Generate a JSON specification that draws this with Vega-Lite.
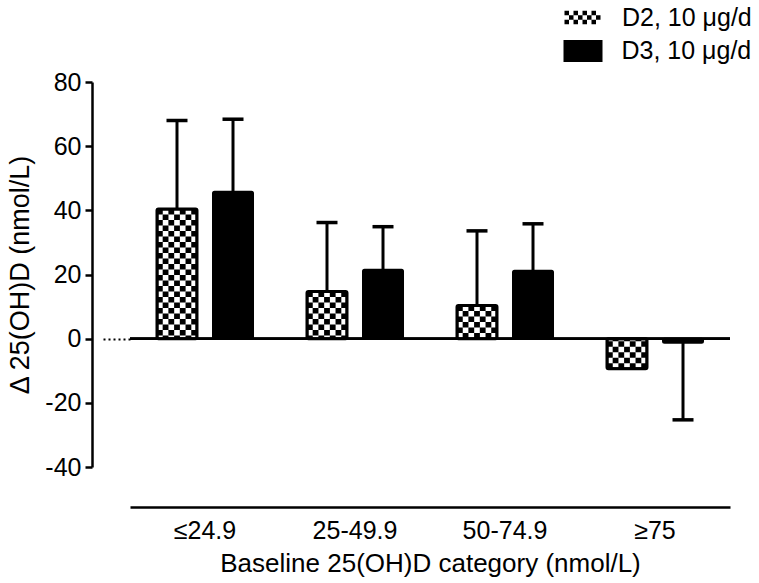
{
  "$schema": "https://vega.github.io/schema/vega-lite/v6.json",
  "width": 600,
  "height": 385,
  "autosize": "none",
  "padding": {"left": 130, "top": 82, "right": 29, "bottom": 116},
  "background": "white",
  "data": {
    "values": [
      {"cat": "≤24.9", "grp": "D2, 10 μg/d", "mean": 40.4, "err": 68.0},
      {"cat": "≤24.9", "grp": "D3, 10 μg/d", "mean": 45.8, "err": 68.4},
      {"cat": "25-49.9", "grp": "D2, 10 μg/d", "mean": 14.7, "err": 36.2},
      {"cat": "25-49.9", "grp": "D3, 10 μg/d", "mean": 21.5, "err": 34.9},
      {"cat": "50-74.9", "grp": "D2, 10 μg/d", "mean": 10.3, "err": 33.6},
      {"cat": "50-74.9", "grp": "D3, 10 μg/d", "mean": 21.2, "err": 35.8},
      {"cat": "≥75", "grp": "D2, 10 μg/d", "mean": -9.4, "err": null},
      {"cat": "≥75", "grp": "D3, 10 μg/d", "mean": -1.3, "err": -25.3}
    ]
  },
  "resolve": {"axis": {"y": "independent"}},
  "layer": [
    {
      "mark": {"type": "rule", "stroke": "black", "strokeWidth": 2},
      "encoding": {
        "y": {
          "datum": 0,
          "type": "quantitative",
          "scale": {"domain": [-40, 80], "nice": false, "zero": false},
          "axis": {
            "orient": "left", "offset": 0, "values": [0], "tickSize": 30,
            "tickDash": [2, 3], "tickWidth": 2, "tickColor": "black",
            "domain": false, "labels": false, "title": null, "grid": false
          }
        }
      }
    },
    {
      "encoding": {
        "x": {
          "field": "cat", "type": "nominal",
          "sort": ["≤24.9", "25-49.9", "50-74.9", "≥75"],
          "scale": {"domain": ["≤24.9", "25-49.9", "50-74.9", "≥75"], "paddingInner": 0, "paddingOuter": 0},
          "title": "Baseline 25(OH)D category (nmol/L)"
        }
      },
      "layer": [
        {
          "transform": [{"filter": "datum.err != null"}],
          "mark": {"type": "rule", "stroke": "black", "strokeWidth": 3},
          "encoding": {
            "xOffset": {"field": "grp", "type": "nominal", "scale": {"domain": ["D2, 10 μg/d", "D3, 10 μg/d"], "paddingInner": 0.2857, "paddingOuter": 0.482}},
            "y": {"field": "mean", "type": "quantitative", "title": "Δ 25(OH)D (nmol/L)", "axis": {"orient": "left"},
              "scale": {"domain": [-40, 80], "nice": false, "zero": false}},
            "y2": {"field": "err"}
          }
        },
        {
          "transform": [{"filter": "datum.err != null"}],
          "mark": {"type": "tick", "color": "black", "size": 21, "thickness": 3.5, "orient": "horizontal", "opacity": 1},
          "encoding": {
            "xOffset": {"field": "grp", "type": "nominal"},
            "y": {"field": "err", "type": "quantitative", "title": "Δ 25(OH)D (nmol/L)", "axis": {"orient": "left"}}
          }
        },
        {
          "transform": [{"filter": "datum.grp === 'D3, 10 μg/d'"}],
          "mark": {"type": "bar", "stroke": "black", "strokeWidth": 2, "cornerRadius": 1.5},
          "encoding": {
            "xOffset": {"field": "grp", "type": "nominal"},
            "y": {"field": "mean", "type": "quantitative", "title": "Δ 25(OH)D (nmol/L)", "axis": {"orient": "left"}},
            "fill": {
              "field": "grp", "type": "nominal",
              "scale": {"domain": ["D3, 10 μg/d"], "range": ["#000000"]},
              "legend": {
                "orient": "none", "legendX": 433.5, "legendY": -50.5, "title": null,
                "symbolType": "M-1,-0.54H1V0.54H-1Z", "symbolSize": 1369,
                "symbolStrokeColor": "black", "symbolStrokeWidth": 2, "symbolOpacity": 1,
                "labelFontSize": 25, "labelFont": "Liberation Sans", "labelColor": "black",
                "labelOffset": 19, "labelLimit": 400
              }
            }
          }
        },
        {
          "transform": [{"filter": "datum.grp === 'D2, 10 μg/d'"}],
          "mark": {"type": "bar", "fill": "white", "cornerRadius": 1.5},
          "encoding": {
            "xOffset": {"field": "grp", "type": "nominal"},
            "y": {"field": "mean", "type": "quantitative", "title": "Δ 25(OH)D (nmol/L)", "axis": {"orient": "left"}}
          }
        },
        {
          "transform": [{"filter": "datum.grp === 'D2, 10 μg/d'"}],
          "mark": {"type": "rule", "stroke": "black", "strokeWidth": 5.8, "strokeDash": [5.5, 5.5], "strokeDashOffset": 0, "xOffset": -45.14},
          "encoding": {"y": {"field": "mean", "type": "quantitative", "title": "Δ 25(OH)D (nmol/L)", "axis": {"orient": "left"}}, "y2": {"datum": 0}}
        },
        {
          "transform": [{"filter": "datum.grp === 'D2, 10 μg/d'"}],
          "mark": {"type": "rule", "stroke": "black", "strokeWidth": 5.8, "strokeDash": [5.5, 5.5], "strokeDashOffset": 5.5, "xOffset": -39.43},
          "encoding": {"y": {"field": "mean", "type": "quantitative", "title": "Δ 25(OH)D (nmol/L)", "axis": {"orient": "left"}}, "y2": {"datum": 0}}
        },
        {
          "transform": [{"filter": "datum.grp === 'D2, 10 μg/d'"}],
          "mark": {"type": "rule", "stroke": "black", "strokeWidth": 5.8, "strokeDash": [5.5, 5.5], "strokeDashOffset": 0, "xOffset": -33.71},
          "encoding": {"y": {"field": "mean", "type": "quantitative", "title": "Δ 25(OH)D (nmol/L)", "axis": {"orient": "left"}}, "y2": {"datum": 0}}
        },
        {
          "transform": [{"filter": "datum.grp === 'D2, 10 μg/d'"}],
          "mark": {"type": "rule", "stroke": "black", "strokeWidth": 5.8, "strokeDash": [5.5, 5.5], "strokeDashOffset": 5.5, "xOffset": -28},
          "encoding": {"y": {"field": "mean", "type": "quantitative", "title": "Δ 25(OH)D (nmol/L)", "axis": {"orient": "left"}}, "y2": {"datum": 0}}
        },
        {
          "transform": [{"filter": "datum.grp === 'D2, 10 μg/d'"}],
          "mark": {"type": "rule", "stroke": "black", "strokeWidth": 5.8, "strokeDash": [5.5, 5.5], "strokeDashOffset": 0, "xOffset": -22.29},
          "encoding": {"y": {"field": "mean", "type": "quantitative", "title": "Δ 25(OH)D (nmol/L)", "axis": {"orient": "left"}}, "y2": {"datum": 0}}
        },
        {
          "transform": [{"filter": "datum.grp === 'D2, 10 μg/d'"}],
          "mark": {"type": "rule", "stroke": "black", "strokeWidth": 5.8, "strokeDash": [5.5, 5.5], "strokeDashOffset": 5.5, "xOffset": -16.57},
          "encoding": {"y": {"field": "mean", "type": "quantitative", "title": "Δ 25(OH)D (nmol/L)", "axis": {"orient": "left"}}, "y2": {"datum": 0}}
        },
        {
          "transform": [{"filter": "datum.grp === 'D2, 10 μg/d'"}],
          "mark": {"type": "rule", "stroke": "black", "strokeWidth": 5.8, "strokeDash": [5.5, 5.5], "strokeDashOffset": 0, "xOffset": -10.86},
          "encoding": {"y": {"field": "mean", "type": "quantitative", "title": "Δ 25(OH)D (nmol/L)", "axis": {"orient": "left"}}, "y2": {"datum": 0}}
        },
        {
          "transform": [{"filter": "datum.grp === 'D2, 10 μg/d'"}],
          "mark": {"type": "bar", "filled": false, "fill": null, "strokeWidth": 3, "cornerRadius": 1.5},
          "encoding": {
            "xOffset": {"field": "grp", "type": "nominal"},
            "y": {"field": "mean", "type": "quantitative", "title": "Δ 25(OH)D (nmol/L)", "axis": {"orient": "left"}},
            "stroke": {
              "field": "grp", "type": "nominal",
              "scale": {"domain": ["D2, 10 μg/d"], "range": ["#000000"]},
              "legend": {
                "orient": "none", "legendX": 432, "legendY": -85, "title": null,
                "symbolType": "M-1,-0.25H1M-0.75,0H1.25M-1,0.25H1", "symbolSize": 1296,
                "symbolStrokeWidth": 4.5, "symbolDash": [4.5, 4.5], "symbolOpacity": 1,
                "symbolFillColor": "transparent",
                "labelFontSize": 25, "labelFont": "Liberation Sans", "labelColor": "black",
                "labelOffset": 19, "labelLimit": 400
              }
            }
          }
        }
      ]
    }
  ],
  "config": {
    "view": {"stroke": null},
    "font": "Liberation Sans",
    "axis": {
      "domainColor": "black", "domainWidth": 2.5, "tickColor": "black", "tickWidth": 2.5,
      "labelColor": "black", "titleColor": "black", "labelFont": "Liberation Sans", "titleFont": "Liberation Sans",
      "titleFontWeight": "normal", "grid": false
    },
    "axisY": {"offset": 38, "tickCount": 6, "tickSize": 7, "labelFontSize": 25, "labelPadding": 4, "titleFontSize": 27, "titlePadding": 10, "labelExpr": "'' + datum.value"},
    "axisX": {"offset": 40, "ticks": false, "tickSize": 0, "labelFontSize": 25, "labelPadding": 11, "labelAngle": 0, "titleFontSize": 26, "titlePadding": 7, "domainWidth": 2.5}
  }
}
